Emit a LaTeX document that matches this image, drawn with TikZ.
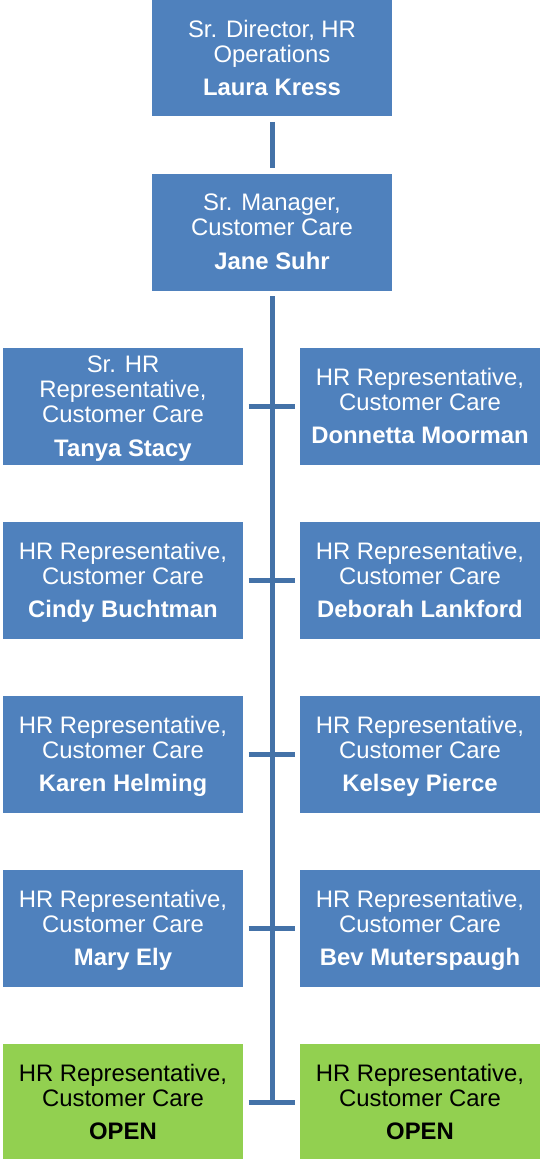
\documentclass[tikz,border=0pt]{standalone}
\usepackage{fontspec}
\setmainfont{Liberation Sans}

\definecolor{boxblue}{RGB}{79,129,189}
\definecolor{openGreen}{RGB}{146,208,80}
\definecolor{linkblue}{RGB}{68,114,168}

\tikzset{every picture/.style={line width=0.75pt}}
\tikzset{
  staffbox/.style={fill=boxblue, draw=none, text=white, minimum width=180pt, minimum height=87.75pt,
    inner sep=0pt, align=center, text depth=0pt, font=\fontsize{17.9}{18.75}\selectfont},
  openbox/.style={staffbox, fill=openGreen, text=black},
  link/.style={draw=linkblue, line width=3.75pt, shorten <=3.75pt, shorten >=3.75pt}
}

\begin{document}
\begin{tikzpicture}[x=0.75pt,y=0.75pt,yscale=-1,xscale=1]
\useasboundingbox (0,0) rectangle (542,1159);

% Top boxes
\node [staffbox] (director) at (272,58) {Sr. Director, HR\\ Operations\\[6.5pt] \textbf{Laura Kress}};
\node [staffbox] (manager) at (272,232) {Sr. Manager,\\ Customer Care\\[6.5pt] \textbf{Jane Suhr}};

% Left column
\node [staffbox] (tanya) at (123,406) {Sr. HR\\ Representative,\\ Customer Care\\[6.5pt] \textbf{Tanya Stacy}};
\node [staffbox] (cindy) at (123,580) {HR Representative,\\ Customer Care\\[6.5pt] \textbf{Cindy Buchtman}};
\node [staffbox] (karen) at (123,754) {HR Representative,\\ Customer Care\\[6.5pt] \textbf{Karen Helming}};
\node [staffbox] (mary) at (123,928) {HR Representative,\\ Customer Care\\[6.5pt] \textbf{Mary Ely}};
\node [openbox] (openL) at (123,1102) {HR Representative,\\ Customer Care\\[6.5pt] \textbf{OPEN}};

% Right column
\node [staffbox] (donnetta) at (420,406) {HR Representative,\\ Customer Care\\[6.5pt] \textbf{Donnetta Moorman}};
\node [staffbox] (deborah) at (420,580) {HR Representative,\\ Customer Care\\[6.5pt] \textbf{Deborah Lankford}};
\node [staffbox] (kelsey) at (420,754) {HR Representative,\\ Customer Care\\[6.5pt] \textbf{Kelsey Pierce}};
\node [staffbox] (bev) at (420,928) {HR Representative,\\ Customer Care\\[6.5pt] \textbf{Bev Muterspaugh}};
\node [openbox] (openR) at (420,1102) {HR Representative,\\ Customer Care\\[6.5pt] \textbf{OPEN}};

% Connectors
\coordinate (trunkEnd) at (272,1105);
\draw [link] (director) -- (manager);
\draw [link, shorten >=0pt] (manager) -- (trunkEnd);
\foreach \l/\r in {tanya/donnetta, cindy/deborah, karen/kelsey, mary/bev, openL/openR}
  \draw [link] (\l.east) -- (\r.west);

\end{tikzpicture}
\end{document}
